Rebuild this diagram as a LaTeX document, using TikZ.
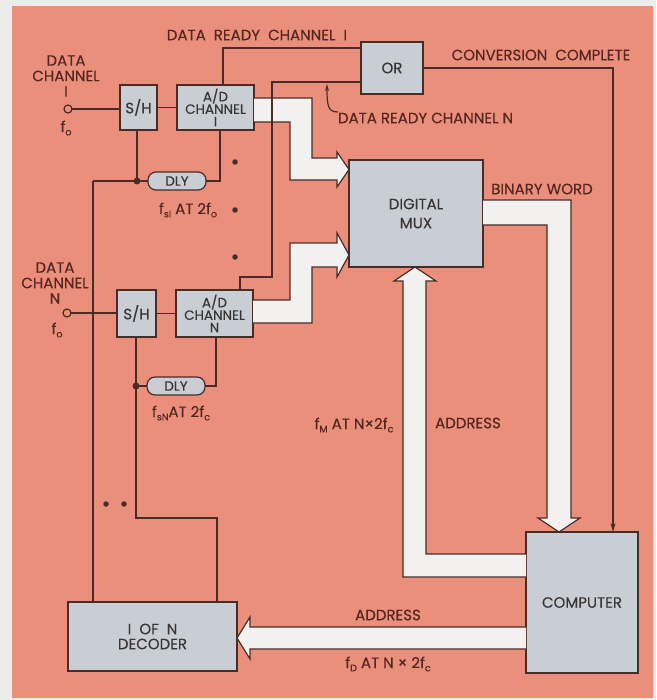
\documentclass[tikz,border=0pt]{standalone}
\usepackage{fontspec}
\setmainfont{Poppins}[FakeBold=0.3]
\usetikzlibrary{arrows.meta,calc}
\definecolor{salmon}{HTML}{EA8F7C}
\definecolor{boxgrey}{HTML}{C9CED4}
\definecolor{ink}{HTML}{4A2C26}
\definecolor{txt}{HTML}{55271F}
\definecolor{boxtxt}{HTML}{3A3636}
\definecolor{bg}{HTML}{ECECEA}
\definecolor{band}{HTML}{F2F1EF}
\newcommand\sbs[1]{\raisebox{-0.4ex}{\fontsize{9.5}{9.5}\selectfont #1}}
\begin{document}
\begin{tikzpicture}[x=1pt,y=-1pt,
  every node/.style={inner sep=0pt, outer sep=0pt},
  blk/.style={draw=ink, line width=1.2pt, fill=boxgrey, text=boxtxt, align=center, font=\fontsize{15}{15}\selectfont},
  adtext/.style={font=\fontsize{13.5}{12.5}\selectfont},
  lbl/.style={text=txt, font=\fontsize{15}{15.5}\selectfont, align=center},
  wire/.style={draw=ink, line width=1.2pt},
  fat/.style={fill=band, draw=ink, line width=1.2pt, line join=miter},
  jdot/.style={circle, fill=ink, minimum size=7pt},
  edot/.style={circle, fill=ink, minimum size=5.5pt},
  dlybox/.style={draw=ink, line width=1.2pt, fill=boxgrey, text=boxtxt, rounded corners=8pt, minimum width=58pt, minimum height=18pt, font=\fontsize{13.5}{13.5}\selectfont},
  incirc/.style={circle, draw=ink, line width=1.2pt, fill=salmon, minimum size=8pt}
]
\useasboundingbox (0,0) rectangle (656,700);
\fill[bg] (0,0) rectangle (656,700);
\fill[salmon] (12,6) rectangle (653,698);

% blocks
\node[blk, minimum width=37pt, minimum height=45pt] (sh1) at (138.5,107.5) {S/H};
\node[blk, adtext, minimum width=77pt, minimum height=45pt] (ad1) at (215.5,107.5) {A/D\\CHANNEL\\I};
\node[blk, minimum width=62pt, minimum height=52pt] (or) at (392,68) {OR};
\node[blk, minimum width=134pt, minimum height=107pt] (mux) at (416,213.5) {DIGITAL\\[4pt]MUX};
\node[blk, minimum width=39pt, minimum height=47pt] (shN) at (136.5,313.5) {S/H};
\node[blk, adtext, minimum width=77pt, minimum height=47pt] (adN) at (214.5,313.5) {A/D\\CHANNEL\\N};
\node[blk, minimum width=112pt, minimum height=141pt] (comp) at (582,602.5) {COMPUTER};
\node[blk, minimum width=169pt, minimum height=69pt] (dec) at (152.5,636.5) {I\ \ OF\ \ N\\DECODER};

% fat arrows
\path[fat] (ad1.east |- 0,98) -- (312,98) -- (312,158) -- (337,158) -- (337,152) -- (mux.west |- 0,169.5) -- (337,187) -- (337,180) -- (290,180) -- (290,122) -- (ad1.east |- 0,122);
\path[fat] (adN.east |- 0,300) -- (290,300) -- (290,243) -- (337,243) -- (337,233) -- (mux.west |- 0,255) -- (337,277) -- (337,267) -- (312,267) -- (312,323) -- (adN.east |- 0,323);
\path[fat] (mux.east |- 0,200) -- (571,200) -- (571,518) -- (580,518) -- (comp.north -| 559,0) -- (538,518) -- (547,518) -- (547,225) -- (mux.east |- 0,225);
\path[fat] (comp.west |- 0,554) -- (426,554) -- (426,281) -- (436,281) -- (mux.south -| 415,0) -- (394,281) -- (403,281) -- (403,577) -- (comp.west |- 0,577);
\path[fat] (comp.west |- 0,627) -- (250,627) -- (250,617) -- (dec.east |- 0,638) -- (250,659) -- (250,649) -- (comp.west |- 0,649);

% input circles
\node[incirc] (c1) at (68,109) {};
\node[incirc] (cN) at (67,313) {};

% delays
\node[dlybox] (dly1) at (177,181) {DLY};
\node[dlybox] (dlyN) at (176,386) {DLY};

% junction coordinates
\coordinate (j1) at (137,181);
\coordinate (jN) at (136,386);
\coordinate (lt) at (93,181);

% wires
\draw[wire] (c1.east) -- (c1 -| sh1.west);
\draw[wire] (sh1.east) -- (sh1.east -| ad1.west);
\draw[wire] (cN.east) -- (cN -| shN.west);
\draw[wire] (shN.east) -- (shN.east -| adN.west);
\draw[wire] (ad1.north -| 223,0) |- (or.west |- 0,48);
\draw[wire] (or.west |- 0,82) -- (272,82) -- (272,277) -| (adN.north -| 240,0);
\draw[wire, -{Stealth[length=9pt,width=5pt]}] (or.east) -| (comp.north -| 613,0);
\draw[wire] (sh1.south -| j1) -- (j1);
\draw[wire] (lt) -- (j1) -- (dly1.west);
\draw[wire] (dly1.east) -- (220,181) -- (ad1.south -| 220,0);
\draw[wire] (lt) -- (dec.north -| lt);
\draw[wire] (shN.south -| jN) -- (136,518) -- (217,518) -- (dec.north -| 217,0);
\draw[wire] (jN) -- (dlyN.west);
\draw[wire] (dlyN.east) -- (216,386) -- (adN.south -| 216,0);
\node[jdot] (d1) at (j1) {};
\node[jdot] (dN) at (jN) {};

% ellipsis dots
\node[edot] (e1) at (235,162) {};
\node[edot] (e2) at (235,210) {};
\node[edot] (e3) at (235,257) {};
\node[edot] (e4) at (106,504) {};
\node[edot] (e5) at (124,504) {};

% labels
\node[lbl] (drc1) at (257,35) {DATA\ \ READY\ \ CHANNEL\ \ I};
\node[lbl] (conv) at (541,55) {CONVERSION\ \ COMPLETE};
\node[lbl, anchor=west] (drcN) at (338,118) {DATA READY CHANNEL N};
\draw[wire, -{Stealth[length=7pt,width=4pt]}] (drcN.west |- 0,112) .. controls (328,112) and (327,106) .. (327,84);
\node[lbl] (bw) at (542,189) {BINARY WORD};
\node[lbl] (addr1) at (468,423) {ADDRESS};
\node[lbl] (fm) at (354,425) {f\sbs{M} AT N×2f\sbs{c}};
\node[lbl] (addr2) at (388,615) {ADDRESS};
\node[lbl] (fd) at (388,664) {f\sbs{D} AT N × 2f\sbs{c}};
\node[lbl] (fs1) at (188,210) {f\sbs{sI} AT 2f\sbs{o}};
\node[lbl] (fsN) at (181,413) {f\sbs{sN}AT 2f\sbs{c}};
\node[lbl] (dc1) at (66,76) {DATA\\CHANNEL\\I};
\node[lbl] (fo1) at (66,128) {f\sbs{o}};
\node[lbl] (dcN) at (55,283) {DATA\\CHANNEL\\N};
\node[lbl] (foN) at (57,330) {f\sbs{o}};
\end{tikzpicture}
\end{document}
